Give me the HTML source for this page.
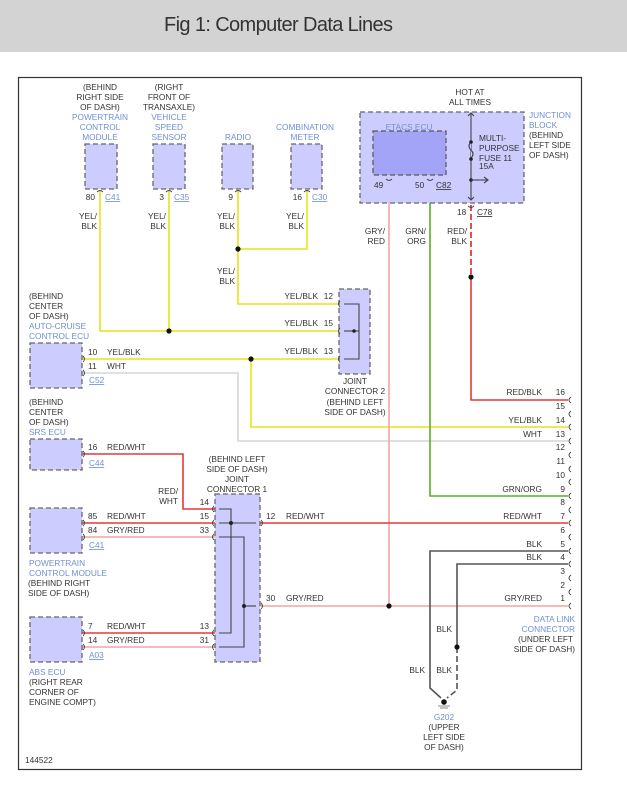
<!DOCTYPE html>
<html><head><meta charset="utf-8"><style>
html,body{margin:0;padding:0;background:#fff;}
svg{display:block;}
text{font-family:"Liberation Sans",sans-serif;font-size:8.3px;fill:#333;}
.b{fill:#6f8fd6;}
.box{fill:#ccccff;stroke:#666;stroke-width:1.3;stroke-dasharray:5,3;}
.w{fill:none;stroke-width:1.6;}
.y{stroke:#e6e21a;}
.r{stroke:#e43a3a;}
.p{stroke:#f2a4a4;}
.g{stroke:#5aad2a;}
.wh{stroke:#d6d6d6;}
.k{stroke:#555;}
.in{fill:none;stroke:#444;stroke-width:1.1;}
.u{text-decoration:underline;}
.pin{fill:none;stroke:#444;stroke-width:0.9;}
</style></head><body>
<svg width="627" height="786" viewBox="0 0 627 786" xmlns="http://www.w3.org/2000/svg">
<rect x="0" y="0" width="627" height="52" fill="#d3d3d3"/>
<text x="164" y="31" style="font-size:20px;fill:#333" textLength="229">Fig 1: Computer Data Lines</text>
<rect x="18.5" y="77.5" width="563" height="692" fill="#fff" stroke="#333" stroke-width="1.2"/>

<!-- wires -->
<polyline class="w y" points="100,190 100,331 340,331"/>
<line class="w y" x1="169" y1="190" x2="169" y2="331"/>
<polyline class="w y" points="238,190 238,304 340,304"/>
<polyline class="w y" points="307,190 307,249 238,249"/>
<line class="w y" x1="82" y1="359" x2="340" y2="359"/>
<polyline class="w y" points="251,359 251,427 568,427"/>
<polyline class="w wh" points="82,373 238,373 238,441 568,441"/>
<polyline class="w p" points="389,178 389,606"/>
<line class="w p" x1="260" y1="606" x2="568" y2="606"/>
<polyline class="w g" points="430,178 430,496 568,496"/>
<line x1="471" y1="205" x2="471" y2="277" stroke="#e43a3a" stroke-width="1.8" stroke-dasharray="6,3"/>
<polyline class="w r" points="471,277 471,400 568,400"/>
<line class="w r" x1="260" y1="523" x2="568" y2="523"/>
<polyline class="w k" points="568,551 430,551 430,688 441,698"/>
<polyline class="w k" points="568,564 457,564 457,647"/>
<polyline fill="none" stroke="#555" stroke-width="1.6" stroke-dasharray="6,3" points="457,647 457,690 447,698"/>
<polyline class="w r" points="82,454 183,454 183,509 215,509"/>
<line class="w r" x1="82" y1="523" x2="215" y2="523"/>
<line class="w p" x1="82" y1="537" x2="215" y2="537"/>
<line class="w r" x1="82" y1="633" x2="215" y2="633"/>
<line class="w p" x1="82" y1="647" x2="215" y2="647"/>

<!-- boxes -->
<rect class="box" x="85" y="144" width="32" height="45"/>
<rect class="box" x="153" y="144" width="32" height="45"/>
<rect class="box" x="222" y="144" width="31" height="45"/>
<rect class="box" x="291" y="144" width="31" height="45"/>
<rect class="box" x="339" y="289" width="31" height="85"/>
<rect class="box" x="30" y="343" width="52" height="45"/>
<rect class="box" x="30" y="439" width="52" height="31"/>
<rect class="box" x="30" y="508" width="52" height="45"/>
<rect class="box" x="30" y="617" width="52" height="45"/>
<rect class="box" x="215" y="494" width="45" height="168"/>
<rect class="box" x="360" y="112" width="164" height="91"/>
<rect x="373" y="131" width="73" height="44" fill="#a3a3f7" stroke="#555" stroke-width="1.2" stroke-dasharray="5,3"/>

<!-- connector 2 internals -->
<polyline class="in" points="344,304 359,304 359,359 344,359"/>
<line class="in" x1="344" y1="331" x2="359" y2="331"/>
<circle cx="354" cy="331" r="1.8" fill="#222"/>
<!-- joint connector 1 internals -->
<polyline class="in" points="219,509 231,509 231,633 219,633"/>
<line class="in" x1="219" y1="523" x2="256" y2="523"/>
<polyline class="in" points="219,537 244,537 244,647 219,647"/>
<line class="in" x1="244" y1="606" x2="256" y2="606"/>
<circle cx="231" cy="523" r="2" fill="#222"/>
<circle cx="244" cy="606" r="2" fill="#222"/>
<!-- fuse -->
<line class="in" x1="471" y1="113" x2="471" y2="200"/>
<path d="M471,142 q-4,4 0,8 q4,4 0,8" fill="#ccccff" stroke="#444" stroke-width="1.1"/>
<circle cx="471" cy="142" r="1.8" fill="#222"/><circle cx="471" cy="159" r="1.8" fill="#222"/>
<circle cx="471" cy="180" r="1.8" fill="#222"/>
<line class="in" x1="471" y1="180" x2="487" y2="180"/><path d="M484,177 L488,180 L484,183" class="in"/>
<path d="M468,116 L471,113 L474,116 M468,197 L471,200 L474,197" class="in"/>

<!-- pin glyphs -->
<g class="pin">
<path d="M97,192 q3,-3 6,0"/><path d="M166,192 q3,-3 6,0"/><path d="M235,192 q3,-3 6,0"/><path d="M304,192 q3,-3 6,0"/>
<path d="M386,179 q3,3 6,0"/><path d="M427,179 q3,3 6,0"/><path d="M468,206 q3,3 6,0"/>
<path d="M340,301 q-3,3 0,6"/><path d="M340,328 q-3,3 0,6"/><path d="M340,356 q-3,3 0,6"/>
<path d="M83,356 q3,3 0,6"/><path d="M83,370 q3,3 0,6"/><path d="M83,451 q3,3 0,6"/>
<path d="M83,520 q3,3 0,6"/><path d="M83,534 q3,3 0,6"/><path d="M83,630 q3,3 0,6"/><path d="M83,644 q3,3 0,6"/>
<path d="M214,506 q-3,3 0,6"/><path d="M214,520 q-3,3 0,6"/><path d="M214,534 q-3,3 0,6"/><path d="M214,630 q-3,3 0,6"/><path d="M214,644 q-3,3 0,6"/>
<path d="M261,520 q3,3 0,6"/><path d="M261,603 q3,3 0,6"/>
</g>
<g class="pin">
<path d="M571,397 q-4,3 0,6"/><path d="M571,411 q-4,3 0,6"/><path d="M571,424 q-4,3 0,6"/><path d="M571,438 q-4,3 0,6"/>
<path d="M571,452 q-4,3 0,6"/><path d="M571,466 q-4,3 0,6"/><path d="M571,479 q-4,3 0,6"/><path d="M571,493 q-4,3 0,6"/>
<path d="M571,507 q-4,3 0,6"/><path d="M571,520 q-4,3 0,6"/><path d="M571,534 q-4,3 0,6"/><path d="M571,548 q-4,3 0,6"/>
<path d="M571,561 q-4,3 0,6"/><path d="M571,575 q-4,3 0,6"/><path d="M571,589 q-4,3 0,6"/><path d="M571,603 q-4,3 0,6"/>
</g>

<!-- dots -->
<g fill="#111">
<circle cx="238" cy="249" r="2.6"/><circle cx="169" cy="331" r="2.6"/><circle cx="251" cy="359" r="2.6"/>
<circle cx="471" cy="277" r="2.6"/><circle cx="389" cy="606" r="2.6"/><circle cx="457" cy="647" r="2.6"/>
<circle cx="444" cy="702" r="2.8"/>
</g>
<line x1="438" y1="706" x2="450" y2="706" stroke="#888" stroke-width="1"/>
<line x1="440" y1="708" x2="448" y2="708" stroke="#888" stroke-width="1"/>

<!-- top labels -->
<g text-anchor="middle">
<text x="100" y="90">(BEHIND</text><text x="100" y="100">RIGHT SIDE</text><text x="100" y="110">OF DASH)</text>
<text class="b" x="100" y="120">POWERTRAIN</text><text class="b" x="100" y="130">CONTROL</text><text class="b" x="100" y="140">MODULE</text>
<text x="169" y="90">(RIGHT</text><text x="169" y="100">FRONT OF</text><text x="169" y="110">TRANSAXLE)</text>
<text class="b" x="169" y="120">VEHICLE</text><text class="b" x="169" y="130">SPEED</text><text class="b" x="169" y="140">SENSOR</text>
<text class="b" x="238" y="140">RADIO</text>
<text class="b" x="305" y="130">COMBINATION</text><text class="b" x="305" y="140">METER</text>
<text x="470" y="95">HOT AT</text><text x="470" y="105">ALL TIMES</text>
<text class="b" x="409" y="130">ETACS ECU</text>
<text x="355" y="384">JOINT</text><text x="355" y="394">CONNECTOR 2</text><text x="355" y="405">(BEHIND LEFT</text><text x="355" y="415">SIDE OF DASH)</text>
<text x="237" y="462">(BEHIND LEFT</text><text x="237" y="472">SIDE OF DASH)</text><text x="237" y="482">JOINT</text><text x="237" y="492">CONNECTOR 1</text>
<text class="b" x="444" y="720">G202</text><text x="444" y="730">(UPPER</text><text x="444" y="740">LEFT SIDE</text><text x="444" y="750">OF DASH)</text>
</g>
<g text-anchor="end">
<text x="95" y="200">80</text><text x="164" y="200">3</text><text x="233" y="200">9</text><text x="302" y="200">16</text>
<text x="97" y="219">YEL/</text><text x="97" y="229">BLK</text>
<text x="166" y="219">YEL/</text><text x="166" y="229">BLK</text>
<text x="235" y="219">YEL/</text><text x="235" y="229">BLK</text>
<text x="304" y="219">YEL/</text><text x="304" y="229">BLK</text>
<text x="235" y="274">YEL/</text><text x="235" y="284">BLK</text>
<text x="318" y="299">YEL/BLK</text><text x="318" y="326">YEL/BLK</text><text x="318" y="354">YEL/BLK</text>
<text x="333" y="299">12</text><text x="333" y="326">15</text><text x="333" y="354">13</text>
<text x="385" y="234">GRY/</text><text x="385" y="244">RED</text>
<text x="426" y="234">GRN/</text><text x="426" y="244">ORG</text>
<text x="467" y="234">RED/</text><text x="467" y="244">BLK</text>
<text x="178" y="494">RED/</text><text x="178" y="504">WHT</text>
<text x="209" y="505">14</text><text x="209" y="519">15</text><text x="209" y="533">33</text>
<text x="209" y="629">13</text><text x="209" y="643">31</text>
<text x="542" y="395">RED/BLK</text><text x="542" y="423">YEL/BLK</text><text x="542" y="437">WHT</text>
<text x="542" y="492">GRN/ORG</text><text x="542" y="519">RED/WHT</text><text x="542" y="547">BLK</text>
<text x="542" y="560">BLK</text><text x="542" y="601">GRY/RED</text>
<text x="575" y="622" class="b">DATA LINK</text><text x="575" y="632" class="b">CONNECTOR</text>
<text x="573" y="642">(UNDER LEFT</text><text x="575" y="652">SIDE OF DASH)</text>
<text x="452" y="632">BLK</text><text x="425" y="673">BLK</text><text x="452" y="673">BLK</text>
</g>
<g text-anchor="end" font-size="8">
<text x="565" y="395">16</text><text x="565" y="409">15</text><text x="565" y="423">14</text><text x="565" y="437">13</text>
<text x="565" y="450">12</text><text x="565" y="464">11</text><text x="565" y="478">10</text><text x="565" y="492">9</text>
<text x="565" y="505">8</text><text x="565" y="519">7</text><text x="565" y="533">6</text><text x="565" y="547">5</text>
<text x="565" y="560">4</text><text x="565" y="574">3</text><text x="565" y="588">2</text><text x="565" y="601">1</text>
</g>
<text x="105" y="200" class="b u">C41</text><text x="174" y="200" class="b u">C35</text><text x="312" y="200" class="b u">C30</text>
<text x="374" y="188">49</text><text x="415" y="188">50</text><text x="436" y="188" class="u">C82</text>
<text x="457" y="215">18</text><text x="477" y="215" class="u">C78</text>
<text x="479" y="141">MULTI-</text><text x="479" y="151">PURPOSE</text><text x="479" y="161">FUSE 11</text><text x="479" y="169">15A</text>
<text class="b" x="529" y="118">JUNCTION</text><text class="b" x="529" y="128">BLOCK</text><text x="529" y="138">(BEHIND</text><text x="529" y="148">LEFT SIDE</text><text x="529" y="158">OF DASH)</text>
<text x="29" y="299">(BEHIND</text><text x="29" y="309">CENTER</text><text x="29" y="319">OF DASH)</text>
<text class="b" x="29" y="329">AUTO-CRUISE</text><text class="b" x="29" y="339">CONTROL ECU</text>
<text x="88" y="355">10</text><text x="107" y="355">YEL/BLK</text><text x="88" y="369">11</text><text x="107" y="369">WHT</text>
<text x="89" y="383" class="b u">C52</text>
<text x="29" y="405">(BEHIND</text><text x="29" y="415">CENTER</text><text x="29" y="425">OF DASH)</text><text class="b" x="29" y="435">SRS ECU</text>
<text x="88" y="450">16</text><text x="107" y="450">RED/WHT</text><text x="89" y="466" class="b u">C44</text>
<text x="88" y="519">85</text><text x="107" y="519">RED/WHT</text><text x="88" y="533">84</text><text x="107" y="533">GRY/RED</text>
<text x="89" y="548" class="b u">C41</text>
<text class="b" x="29" y="566">POWERTRAIN</text><text class="b" x="29" y="576">CONTROL MODULE</text>
<text x="28" y="586">(BEHIND RIGHT</text><text x="28" y="596">SIDE OF DASH)</text>
<text x="88" y="629">7</text><text x="107" y="629">RED/WHT</text><text x="88" y="643">14</text><text x="107" y="643">GRY/RED</text>
<text x="89" y="658" class="b u">A03</text>
<text class="b" x="29" y="675">ABS ECU</text><text x="29" y="685">(RIGHT REAR</text><text x="29" y="695">CORNER OF</text><text x="29" y="705">ENGINE COMPT)</text>
<text x="266" y="519">12</text><text x="286" y="519">RED/WHT</text>
<text x="266" y="601">30</text><text x="286" y="601">GRY/RED</text>
<text x="25" y="763">144522</text>
</svg>
</body></html>
